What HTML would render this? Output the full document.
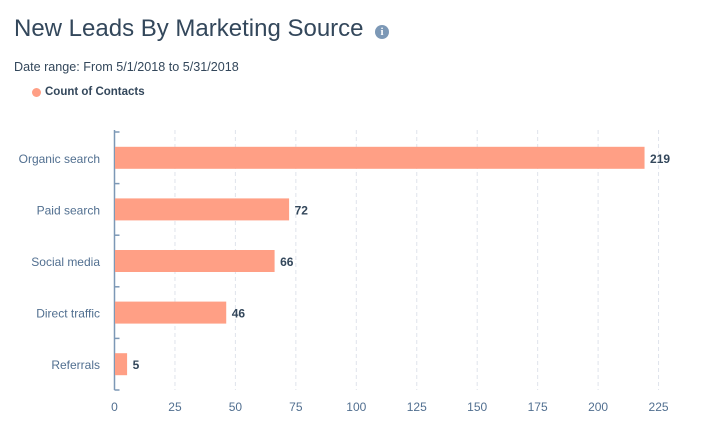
<!DOCTYPE html>
<html><head><meta charset="utf-8"><style>
body{margin:0;width:722px;height:435px;background:#fff;font-family:"Liberation Sans",sans-serif;overflow:hidden;position:relative}
.t{position:absolute;left:14px;top:15px;font-size:24px;color:#33475b}
.i{position:absolute;left:375px;top:25px;width:14px;height:14px;border-radius:50%;background:#7c98b6;color:#fff;font-size:11px;font-weight:bold;text-align:center;line-height:14px;font-family:"Liberation Serif",serif}
.d{position:absolute;left:14px;top:60px;font-size:12.6px;color:#33475b}
.l{position:absolute;top:86px;font-size:11.5px;font-weight:bold;color:#33475b}
.dot{position:absolute;left:32px;top:88px;width:9px;height:9px;border-radius:50%;background:#ff9f85}
</style></head><body>
<div class="t">New Leads By Marketing Source</div>
<div class="i">i</div>
<div class="d">Date range: From 5/1/2018 to 5/31/2018</div>
<div class="dot"></div>
<div class="l" style="left:45px">Count of Contacts</div>
<svg id="c" width="722" height="435" style="position:absolute;left:0;top:0"></svg>
<script>
const categories=["Organic search","Paid search","Social media","Direct traffic","Referrals"];
const values=[219,72,66,46,5];
const ticks=[0,25,50,75,100,125,150,175,200,225];
const svg=document.getElementById('c');const NS="http://www.w3.org/2000/svg";
const x0=114.5,k=2.418,yTop=132,yBot=390,band=(yBot-yTop)/categories.length;
const X=v=>x0+v*k;
function mk(t,a){const e=document.createElementNS(NS,t);for(const n in a)e.setAttribute(n,a[n]);svg.appendChild(e);return e;}
ticks.forEach(v=>{
 if(v>0){const g=mk('line',{x1:X(v),x2:X(v),y1:yTop-2,y2:yBot,stroke:'#dfe3eb','stroke-dasharray':'4,3'});
 
 }
 const t=mk('text',{x:X(v),y:411,'text-anchor':'middle','font-size':12,fill:'#516f90'});t.textContent=v;
 
 
});
const ax=mk('line',{x1:x0,x2:x0,y1:yTop-2,y2:yBot,stroke:'#7c98b6','stroke-width':1.5});


for(let i=0;i<=categories.length;i++){const y=yTop+i*band;mk('line',{x1:x0,x2:x0+5,y1:y,y2:y,stroke:'#7c98b6','stroke-width':1.5});}
categories.forEach((c,i)=>{
 const cy=yTop+band*(i+0.5);
 const b=mk('rect',{x:x0+0.5,y:cy-11,width:values[i]*k,height:22,fill:'#ff9f85'});
 
 
 const l=mk('text',{x:100,y:cy+5,'text-anchor':'end','font-size':12,fill:'#516f90'});l.textContent=c;
 
 
 const v=mk('text',{x:X(values[i])+6,y:cy+5,'font-size':12,'font-weight':'bold',fill:'#33475b'});v.textContent=values[i];
 
 
});
</script>
</body></html>
